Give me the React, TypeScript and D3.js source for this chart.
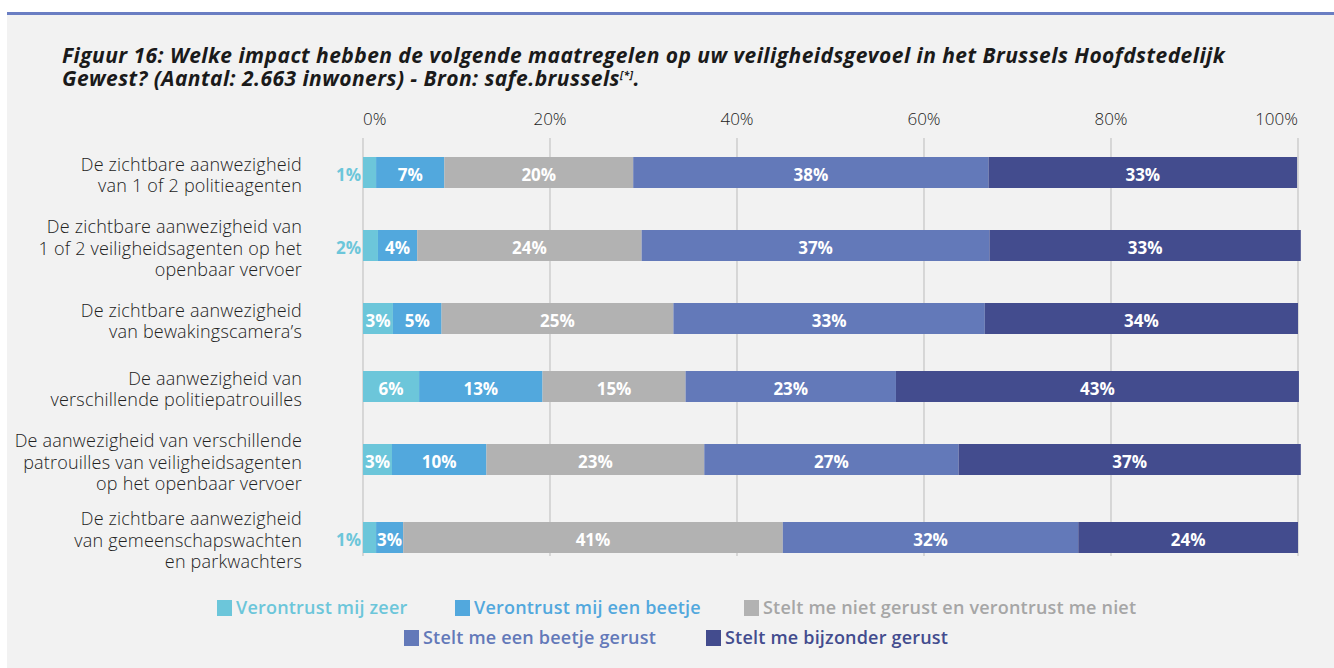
import React from 'react';
import * as d3 from 'd3';

const W = 1334;
const H = 668;

const categories = [
  ['De zichtbare aanwezigheid', 'van 1 of 2 politieagenten'],
  ['De zichtbare aanwezigheid van', '1 of 2 veiligheidsagenten op het', 'openbaar vervoer'],
  ['De zichtbare aanwezigheid', 'van bewakingscamera’s'],
  ['De aanwezigheid van', 'verschillende politiepatrouilles'],
  ['De aanwezigheid van verschillende', 'patrouilles van veiligheidsagenten', 'op het openbaar vervoer'],
  ['De zichtbare aanwezigheid', 'van gemeenschapswachten', 'en parkwachters'],
];

const seriesNames = [
  'Verontrust mij zeer',
  'Verontrust mij een beetje',
  'Stelt me niet gerust en verontrust me niet',
  'Stelt me een beetje gerust',
  'Stelt me bijzonder gerust',
];
const colors = ['#6CC6DA', '#52A8DD', '#B2B2B2', '#6379B9', '#434C8E'];

const verontrustZeer = [1.4, 1.6, 3.2, 6.0, 3.1, 1.4];
const verontrustBeetje = [7.3, 4.2, 5.2, 13.2, 10.1, 2.9];
const nietGerust = [20.2, 24.0, 24.8, 15.3, 23.3, 40.6];
const beetjeGerust = [38.0, 37.2, 33.3, 22.5, 27.2, 31.6];
const bijzonderGerust = [33.0, 33.3, 33.5, 43.1, 36.6, 23.5];
const seriesValues = [verontrustZeer, verontrustBeetje, nietGerust, beetjeGerust, bijzonderGerust];

const ticks = [0, 20, 40, 60, 80, 100];

// legend layout (two centred rows)
const legendRows = [[0, 1, 2], [3, 4]];
const legendX = [[217, 455, 744], [404, 706]];

const FONT = '"Open Sans", Roboto, sans-serif';

export default function App() {
  const rows = categories.map((c, i) => {
    const r: any = { idx: i };
    seriesNames.forEach((s, j) => (r[s] = seriesValues[j][i]));
    return r;
  });
  const stacked = d3.stack<any>().keys(seriesNames)(rows);

  const x = d3.scaleLinear().domain([0, 100]).range([363, 1298]);

  // rows grow with the number of label lines, like the original layout
  const rowH = categories.map((l) => 48 + 10 * l.length);
  const top = 138.5;
  const ends = Array.from(d3.cumsum(rowH));
  const centers = ends.map((e, i) => top + e - rowH[i] / 2);
  const bw = 31;

  return (
    <svg width={W} height={H} style={{ position: 'absolute', left: 0, top: 0 }} fontFamily={FONT}>
      <rect x={0} y={0} width={W} height={H} fill="#ffffff" />
      <rect x={7} y={14} width={W - 7} height={H - 14} fill="#F2F2F2" />
      <rect x={7} y={12} width={W - 7} height={3} fill="#6A7EC3" />

      <text fontSize={21} fontWeight={700} fontStyle="italic" fill="#1a1a1a" letterSpacing={0.45}>
        <tspan x={62} y={63}>
          Figuur 16: Welke impact hebben de volgende maatregelen op uw veiligheidsgevoel in het Brussels Hoofdstedelijk
        </tspan>
        <tspan x={62} y={86}>
          Gewest? (Aantal: 2.663 inwoners) - Bron: safe.brussels
        </tspan>
        <tspan fontSize={10} dy={-7}>[*]</tspan>
        <tspan dy={7}>.</tspan>
      </text>

      {ticks.map((t, i) => (
        <g key={t}>
          <line x1={x(t)} x2={x(t)} y1={138} y2={556} stroke="#C4C4C4" strokeWidth={1.2} />
          <text
            x={x(t)}
            y={125}
            fontSize={17}
            fontWeight={300}
            fill="#222"
            textAnchor={i === 0 ? 'start' : i === ticks.length - 1 ? 'end' : 'middle'}
          >
            {t}%
          </text>
        </g>
      ))}

      {categories.map((lines, i) => {
        const cy = centers[i];
        const lh = 21.5;
        const y0 = cy - ((lines.length - 1) * lh) / 2 + 9;
        return (
          <text key={i} x={302} fontSize={18} fontWeight={300} fill="#222" textAnchor="end" letterSpacing={0.2}>
            {lines.map((l, k) => (
              <tspan key={k} x={302} y={y0 + k * lh}>
                {l}
              </tspan>
            ))}
          </text>
        );
      })}

      {stacked.map((s, j) => (
        <g key={s.key} fill={colors[j]}>
          {s.map((d, i) => {
            const x0 = x(d[0]);
            const x1 = x(d[1]);
            const cy = centers[i];
            const v = d[1] - d[0];
            const label = Math.round(v) + '%';
            const outside = v < 2.5;
            return (
              <g key={i}>
                <rect x={x0} y={cy - bw / 2} width={x1 - x0} height={bw} />
                <text
                  x={outside ? x0 - 2 : (x0 + x1) / 2}
                  y={cy + 8}
                  textAnchor={outside ? 'end' : 'middle'}
                  fontSize={17}
                  fontWeight={700}
                  fill={outside ? colors[j] : '#ffffff'}
                >
                  {label}
                </text>
              </g>
            );
          })}
        </g>
      ))}

      {legendRows.map((row, r) =>
        row.map((j, k) => {
          const lx = legendX[r][k];
          const ly = 608 + r * 30;
          return (
            <g key={j}>
              <rect x={lx} y={ly - 8} width={15} height={16} fill={colors[j]} />
              <text
                x={lx + 19}
                y={ly + 6}
                fontSize={18}
                fontWeight={600}
                letterSpacing={0.2}
                fill={j === 2 ? '#A6A6A6' : colors[j]}
              >
                {seriesNames[j]}
              </text>
            </g>
          );
        })
      )}
    </svg>
  );
}
